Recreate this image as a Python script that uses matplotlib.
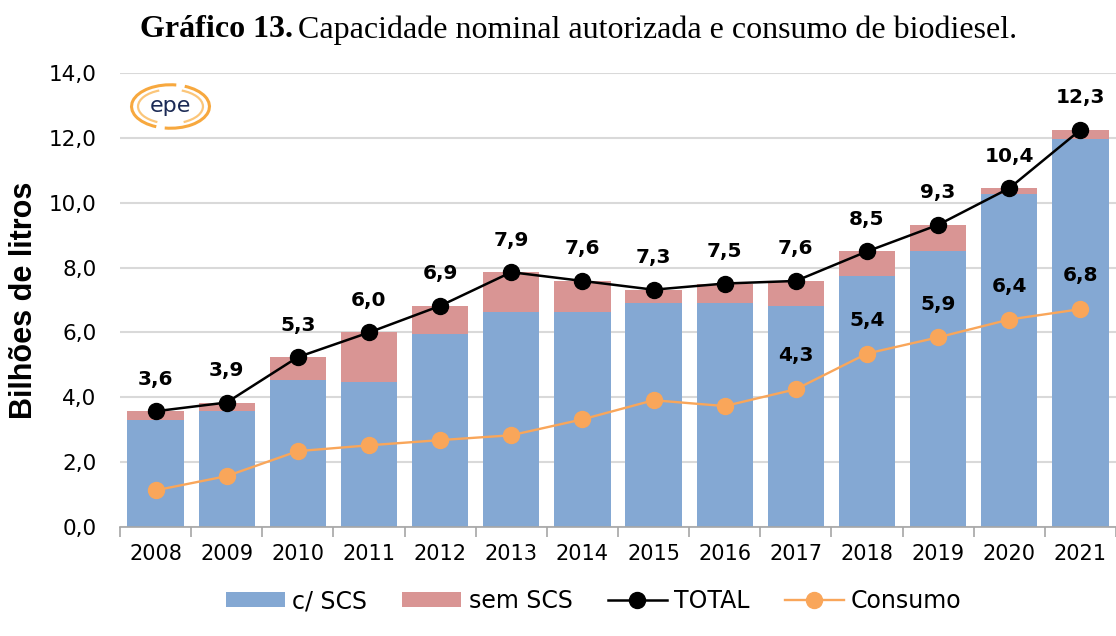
import matplotlib
matplotlib.use("Agg")
import matplotlib.pyplot as plt
from matplotlib.patches import Arc
import numpy as np

years = ["2008", "2009", "2010", "2011", "2012", "2013", "2014",
         "2015", "2016", "2017", "2018", "2019", "2020", "2021"]
com_scs = [3.30, 3.57, 4.52, 4.48, 5.96, 6.64, 6.64, 6.92, 6.92, 6.82, 7.73, 8.50, 10.27, 11.97]
total = [3.6, 3.9, 5.3, 6.0, 6.9, 7.9, 7.6, 7.3, 7.5, 7.6, 8.5, 9.3, 10.4, 12.3]
total_plot = [3.57, 3.84, 5.24, 6.00, 6.82, 7.86, 7.59, 7.32, 7.51, 7.59, 8.50, 9.32, 10.45, 12.25]
consumo = [1.13, 1.57, 2.34, 2.52, 2.68, 2.83, 3.32, 3.91, 3.73, 4.25, 5.35, 5.85, 6.40, 6.72]
consumo_labels = ["", "", "", "", "", "", "", "", "", "4,3", "5,4", "5,9", "6,4", "6,8"]
sem_scs = [t - c for t, c in zip(total_plot, com_scs)]
yticks = [0, 2, 4, 6, 8, 10, 12, 14]

BLUE = "#84A8D3"
RED = "#D99594"
ORANGE = "#F9A65A"

plt.rcParams["font.family"] = ["DejaVu Sans"]
fig = plt.figure(figsize=(11.16, 6.36), dpi=100)
ax = fig.add_axes([0.1075, 0.1714, 0.8925, 0.7136])

x = np.arange(len(years))
b1 = ax.bar(x, com_scs, width=0.79, color=BLUE, label="c/ SCS", zorder=2)
b2 = ax.bar(x, sem_scs, width=0.79, bottom=com_scs, color=RED, label="sem SCS", zorder=2)
l1, = ax.plot(x, total_plot, color="black", lw=1.8, marker="o", ms=11.5, label="TOTAL", zorder=4)
l2, = ax.plot(x, consumo, color=ORANGE, lw=1.7, marker="o", ms=11.5, label="Consumo", zorder=3)

for xi, v, lab in zip(x, total_plot, total):
    ax.annotate(f"{lab:.1f}".replace(".", ","), (xi, v), xytext=(0, 23),
                textcoords="offset points", ha="center", va="center",
                fontsize=14.5, fontweight="bold", color="black", zorder=5)
for xi, v, lab in zip(x, consumo, consumo_labels):
    if lab:
        ax.annotate(lab, (xi, v), xytext=(0, 24), textcoords="offset points",
                    ha="center", va="center", fontsize=14.5, fontweight="bold",
                    color="black", zorder=5)

ax.set_xlim(-0.5, len(years) - 0.5)
ax.set_ylim(0, 14)
ax.set_yticks(yticks)
ax.set_yticklabels([f"{v:.1f}".replace(".", ",") for v in yticks], fontsize=15.5)
ax.set_xticks(x)
ax.set_xticklabels(years, fontsize=15)
ax.set_xticks(np.arange(-0.5, len(years), 1.0), minor=True)
ax.tick_params(axis="x", which="major", length=0, pad=12)
ax.tick_params(axis="x", which="minor", length=7, width=1.2, color="#A6A6A6", direction="out")
ax.tick_params(axis="y", length=0, pad=17)
ax.grid(axis="y", color="#D9D9D9", lw=1.5, zorder=0)
ax.set_axisbelow(True)
for s in ["left", "right", "top"]:
    ax.spines[s].set_visible(False)
ax.spines["bottom"].set_color("#A6A6A6")
ax.spines["bottom"].set_linewidth(1.2)
ax.spines["bottom"].set_zorder(6)

ax.set_ylabel("Bilhões de litros", fontsize=22, fontweight="bold",
              family=["Liberation Sans", "DejaVu Sans"], labelpad=7)

# Title (mixed weight, placed in sequence)
fig.canvas.draw()
renderer = fig.canvas.get_renderer()
t1 = fig.text(0.125, 0.953, "Gráfico 13.", fontsize=23, fontweight="bold",
              family=["Liberation Serif"], ha="left", va="center")
bb = t1.get_window_extent(renderer=renderer)
x2 = (bb.x1 + 6) / fig.bbox.width
fig.text(x2, 0.953, "Capacidade nominal autorizada e consumo de biodiesel.",
         fontsize=23, family=["Liberation Serif"], ha="left", va="center")

# Logo
lax = fig.add_axes([128 / 1116, 1 - 130 / 636, 85 / 1116, 47 / 636])
lax.set_xlim(-1.8, 1.8)
lax.set_ylim(-1, 1)
lax.axis("off")
lax.text(0, 0.02, "epe", fontsize=16, color="#1B2A55", ha="center", va="center",
         fontweight="medium")
for w, h, a0, a1, c, lw in [
        (3.3, 1.85, 75, 235, "#F7A83E", 2.2),
        (3.3, 1.85, 255, 415, "#F7A83E", 2.2),
        (2.75, 1.45, 125, 230, "#FBC67A", 1.6),
        (2.75, 1.45, -50, 55, "#FBC67A", 1.6)]:
    lax.add_patch(Arc((0, 0), w, h, theta1=a0, theta2=a1, color=c, lw=lw))

fig.legend([b1, b2, l1, l2], ["c/ SCS", "sem SCS", "TOTAL", "Consumo"],
           loc="center", bbox_to_anchor=(0.532, 0.055), ncol=4,
           frameon=False, fontsize=17, handlelength=2.5, handleheight=0.6,
           columnspacing=1.5, handletextpad=0.3)

fig.savefig("out.png", dpi=100)
